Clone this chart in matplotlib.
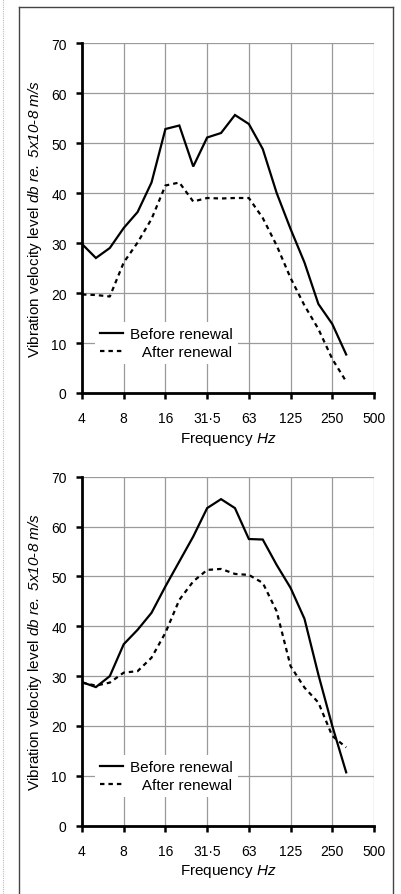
import numpy as np
import matplotlib
matplotlib.use('Agg')
import matplotlib.pyplot as plt
from matplotlib.lines import Line2D

plt.rcParams['font.family'] = ['Liberation Sans', 'DejaVu Sans']
plt.rcParams['mathtext.fontset'] = 'custom'
plt.rcParams['mathtext.rm'] = 'Liberation Sans:italic'
plt.rcParams['mathtext.it'] = 'Liberation Sans:italic'
plt.rcParams['mathtext.sf'] = 'Liberation Sans'

# one-third octave bands (Hz) and octave tick labels
bands = ['4', '5', '6.3', '8', '10', '12.5', '16', '20', '25', '31.5',
         '40', '50', '63', '80', '100', '125', '160', '200', '250', '315']
octave_labels = ['4', '8', '16', '31·5', '63', '125', '250', '500']
y_ticks = [0, 10, 20, 30, 40, 50, 60, 70]

before_top = [29.8, 27.0, 29.0, 33.0, 36.2, 42.1, 52.8, 53.5, 45.3, 51.1,
              52.0, 55.6, 53.8, 48.8, 40.0, 32.8, 26.1, 17.8, 13.8, 7.7]
after_top = [19.7, 19.6, 19.3, 26.1, 30.1, 34.8, 41.5, 42.1, 38.3, 39.0,
             38.9, 39.0, 39.0, 35.0, 29.5, 23.0, 17.5, 12.8, 6.8, 2.3]
before_bot = [28.8, 27.8, 30.0, 36.4, 39.3, 42.7, 48.0, 53.0, 58.0, 63.7,
              65.5, 63.7, 57.5, 57.4, 52.3, 47.7, 41.5, 30.3, 20.0, 10.7]
after_bot = [28.7, 28.1, 28.7, 30.7, 31.0, 33.7, 38.7, 45.3, 49.0, 51.3,
             51.5, 50.5, 50.3, 48.7, 43.0, 32.0, 27.7, 24.7, 18.0, 15.7]

labels = ['Before renewal', '   After renewal']

W, H = 402, 895
fig = plt.figure(figsize=(W / 100, H / 100), dpi=100)

x = np.arange(len(bands)) / 3.0


def make_axes(top_px, bottom_px):
    left, right = 82, 374
    return fig.add_axes([left / W, 1 - bottom_px / H,
                         (right - left) / W, (bottom_px - top_px) / H])


def style(ax, before, after):
    ax.plot(x, before, color='black', lw=1.6, solid_joinstyle='miter',
            label=labels[0], zorder=3)
    ax.plot(x, after, color='black', lw=1.6, linestyle=(0, (2.0, 1.8)),
            label=labels[1], zorder=3)
    ax.set_xlim(0, 7)
    ax.set_ylim(0, 70)
    ax.set_xticks(np.arange(len(octave_labels)))
    ax.set_xticklabels(octave_labels)
    ax.set_yticks(y_ticks)
    ax.grid(True, color='#9a9a9a', lw=0.9)
    ax.set_axisbelow(True)
    for s in ['top', 'right']:
        ax.spines[s].set_visible(False)
    for s in ['left', 'bottom']:
        ax.spines[s].set_linewidth(2.0)
        ax.spines[s].set_zorder(4)
    ax.tick_params(axis='both', direction='out', length=4, width=1.8,
                   labelsize=10, colors='black')
    ax.tick_params(axis='x', pad=9)
    ax.tick_params(axis='y', pad=7)
    ax.set_ylabel(r'$\mathsf{Vibration\ velocity\ level}\ \mathit{db\ re.\ 5x10}$-$\mathit{8\ m/s}$',
                  fontsize=11)
    ax.yaxis.set_label_coords(-0.13, 0.5)
    ax.set_xlabel(r'Frequency $\mathit{Hz}$', fontsize=11)
    ax.xaxis.set_label_coords(0.5, -0.105)
    leg = ax.legend(loc='upper left', bbox_to_anchor=(0.045, 0.203),
                    frameon=True, fancybox=False, edgecolor='none',
                    facecolor='white', framealpha=1.0, fontsize=11,
                    handlelength=1.5, handletextpad=0.45, labelspacing=0.25,
                    borderpad=0.35, borderaxespad=0)
    leg.set_zorder(5)


ax1 = make_axes(44, 394)
style(ax1, before_top, after_top)
ax2 = make_axes(477.7, 826.7)
style(ax2, before_bot, after_bot)

# page frame
fig.add_artist(Line2D([19 / W, 19 / W], [0, 1 - 8 / H], color='#444444', lw=1.0))
fig.add_artist(Line2D([393 / W, 393 / W], [0, 1 - 8 / H], color='#444444', lw=1.0))
fig.add_artist(Line2D([19 / W, 393 / W], [1 - 8 / H, 1 - 8 / H], color='#444444', lw=1.0))
fig.add_artist(Line2D([3.5 / W, 3.5 / W], [0, 1], color='#bbbbbb', lw=0.8,
                      linestyle=(0, (1, 1))))

fig.savefig('out.png', dpi=100)
